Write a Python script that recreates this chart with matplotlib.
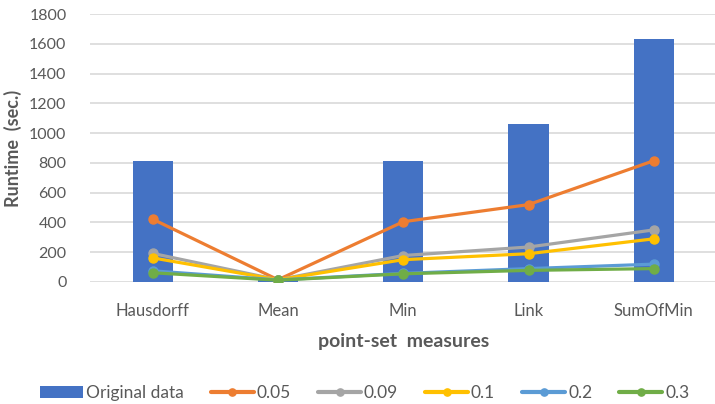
import numpy as np
import matplotlib.pyplot as plt

# runtime per point-set measure, original data vs. sampling ratios
measures = ['Hausdorff', 'Mean', 'Min', 'Link', 'SumOfMin']
original = [815, 12, 815, 1060, 1630]
ratio_labels = ['0.05', '0.09', '0.1', '0.2', '0.3']
r005 = [422, 15, 405, 520, 815]
r009 = [192, 15, 178, 235, 350]
r01 = [162, 15, 150, 190, 290]
r02 = [75, 14, 58, 90, 120]
r03 = [62, 12, 55, 78, 90]

plt.rcParams['font.family'] = ['Lato', 'DejaVu Sans']

bar_color = '#4472C4'
line_colors = ['#ED7D31', '#A5A5A5', '#FFC000', '#5B9BD5', '#70AD47']
text_color = '#595959'

fig = plt.figure(figsize=(7.15, 4.04), dpi=100)
ax = fig.add_axes([0.126, 0.302, 0.876, 0.663])

x = np.arange(len(measures))
bars = ax.bar(x, original, width=0.32, color=bar_color, label='Original data', zorder=2)

handles = [bars]
for vals, lab, col in zip([r005, r009, r01, r02, r03], ratio_labels, line_colors):
    ln, = ax.plot(x, vals, color=col, lw=2.3, marker='o', ms=6.5, label=lab, zorder=3,
                  solid_capstyle='round')
    handles.append(ln)

ax.set_xlim(-0.5, len(measures) - 0.5)
ax.set_ylim(0, 1800)
ax.set_yticks(np.arange(0, 1801, 200))
ax.set_xticks(x)
ax.set_xticklabels(measures)
ax.yaxis.grid(True, color='#d9d9d9', lw=1.2, zorder=0)
ax.set_axisbelow(True)
for s in ax.spines.values():
    s.set_visible(False)
ax.tick_params(axis='y', length=0, labelsize=11.5, colors=text_color, pad=17)
ax.tick_params(axis='x', length=0, labelsize=12, colors=text_color, pad=15)

ax.set_ylabel('Runtime  (sec.)', fontsize=13, fontweight='bold', color=text_color,
              labelpad=5)
ax.set_xlabel('point-set  measures', fontsize=14, fontweight='bold', color=text_color,
              labelpad=10)

leg = fig.legend(handles=handles, labels=[h.get_label() for h in handles],
                 loc='center', bbox_to_anchor=(0.51, 0.028), ncol=6, frameon=False,
                 fontsize=12.5, handlelength=2.5, columnspacing=1.55, handletextpad=0.15,
                 markerscale=0.8, labelcolor=text_color)
for h in leg.get_lines():
    h.set_linewidth(3)

fig.savefig('out.png', dpi=100)
